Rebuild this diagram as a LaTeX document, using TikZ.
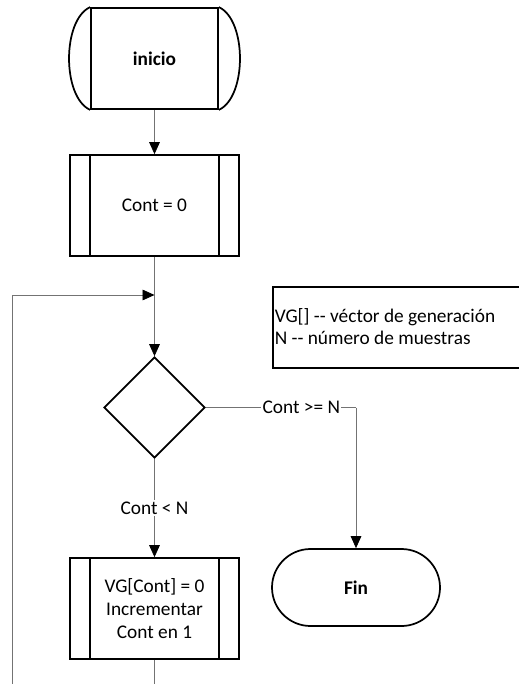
\documentclass[tikz,border=0pt]{standalone}
\usepackage{fontspec}
\setmainfont{Carlito}
\usetikzlibrary{shapes.geometric,shapes.misc,arrows.meta}
\begin{document}
\begin{tikzpicture}[x=0.75pt,y=-0.75pt,
  shapeline/.style={draw=black,line width=1.3pt},
  procbox/.style={shapeline,rectangle,minimum width=126.75pt,minimum height=75.75pt,inner sep=0pt,align=center,font=\fontsize{14.5}{17.2}\selectfont},
  conn/.style={draw=black!55,line width=0.6pt},
  tip/.style={-{Triangle[length=9pt,width=8pt,fill=black,color=black]}},
  lbl/.style={fill=white,inner sep=1pt,font=\fontsize{14.5}{17}\selectfont}]
\useasboundingbox (0,0) rectangle (518,684);

% start terminal: box with bulged ends
\node[shapeline,rectangle,minimum width=95.25pt,minimum height=75.75pt,inner sep=0pt,font=\fontsize{14.5}{17}\selectfont\bfseries] (start) at (154.5,58.5) {inicio};
\draw[shapeline] (start.north west) .. controls (62,20) and (62,97) .. (start.south west);
\draw[shapeline] (start.north east) .. controls (247,20) and (247,97) .. (start.south east);

% counter initialisation
\node[procbox] (init) at (154.5,205.5) {Cont = 0};
\draw[shapeline] ([xshift=15.75pt]init.north west) -- ([xshift=15.75pt]init.south west);
\draw[shapeline] ([xshift=-15.75pt]init.north east) -- ([xshift=-15.75pt]init.south east);

% decision
\node[shapeline,diamond,aspect=1,minimum width=75.75pt,minimum height=75.75pt,inner sep=0pt] (dec) at (154.5,407.5) {};

% legend
\node[shapeline,rectangle,anchor=west,minimum width=195pt,minimum height=60.75pt,inner sep=0pt] (legend) at (272,327.5) {};
\node[anchor=north west,align=left,inner sep=0pt,font=\fontsize{14.5}{16.5}\selectfont] (legtext) at (274.5,308.5) {VG[] -{}- véctor de generación\\N -{}- número de muestras};

% loop body
\node[procbox] (body) at (154.5,608.5) {VG[Cont] = 0\\Incrementar\\Cont en 1};
\draw[shapeline] ([xshift=15.75pt]body.north west) -- ([xshift=15.75pt]body.south west);
\draw[shapeline] ([xshift=-15.75pt]body.north east) -- ([xshift=-15.75pt]body.south east);

% end terminal
\node[shapeline,rounded rectangle,minimum width=126pt,minimum height=57.75pt,inner sep=0pt,font=\fontsize{14.5}{17}\selectfont\bfseries] (fin) at (356,587.5) {Fin};

% connectors
\coordinate (join) at (154.5,295);
\coordinate (turn) at (356,407.5);
\coordinate (loopfoot) at (12,684);
\coordinate (bodyfoot) at (154.5,684);

\draw[conn,tip] (start.south) -- (init.north);
\draw[conn,tip] (init.south) -- (dec.north);
\draw[conn,tip] (loopfoot) |- (join);
\draw[conn] (dec.east) -- node[lbl,pos=0.636] (ge) {Cont >= N} (turn);
\draw[conn,tip] (turn) -- (fin.north);
\draw[conn,tip] (dec.south) -- node[lbl,pos=0.5] (lt) {Cont < N} (body.north);
\draw[conn] (body.south) -- (bodyfoot);
\end{tikzpicture}
\end{document}
